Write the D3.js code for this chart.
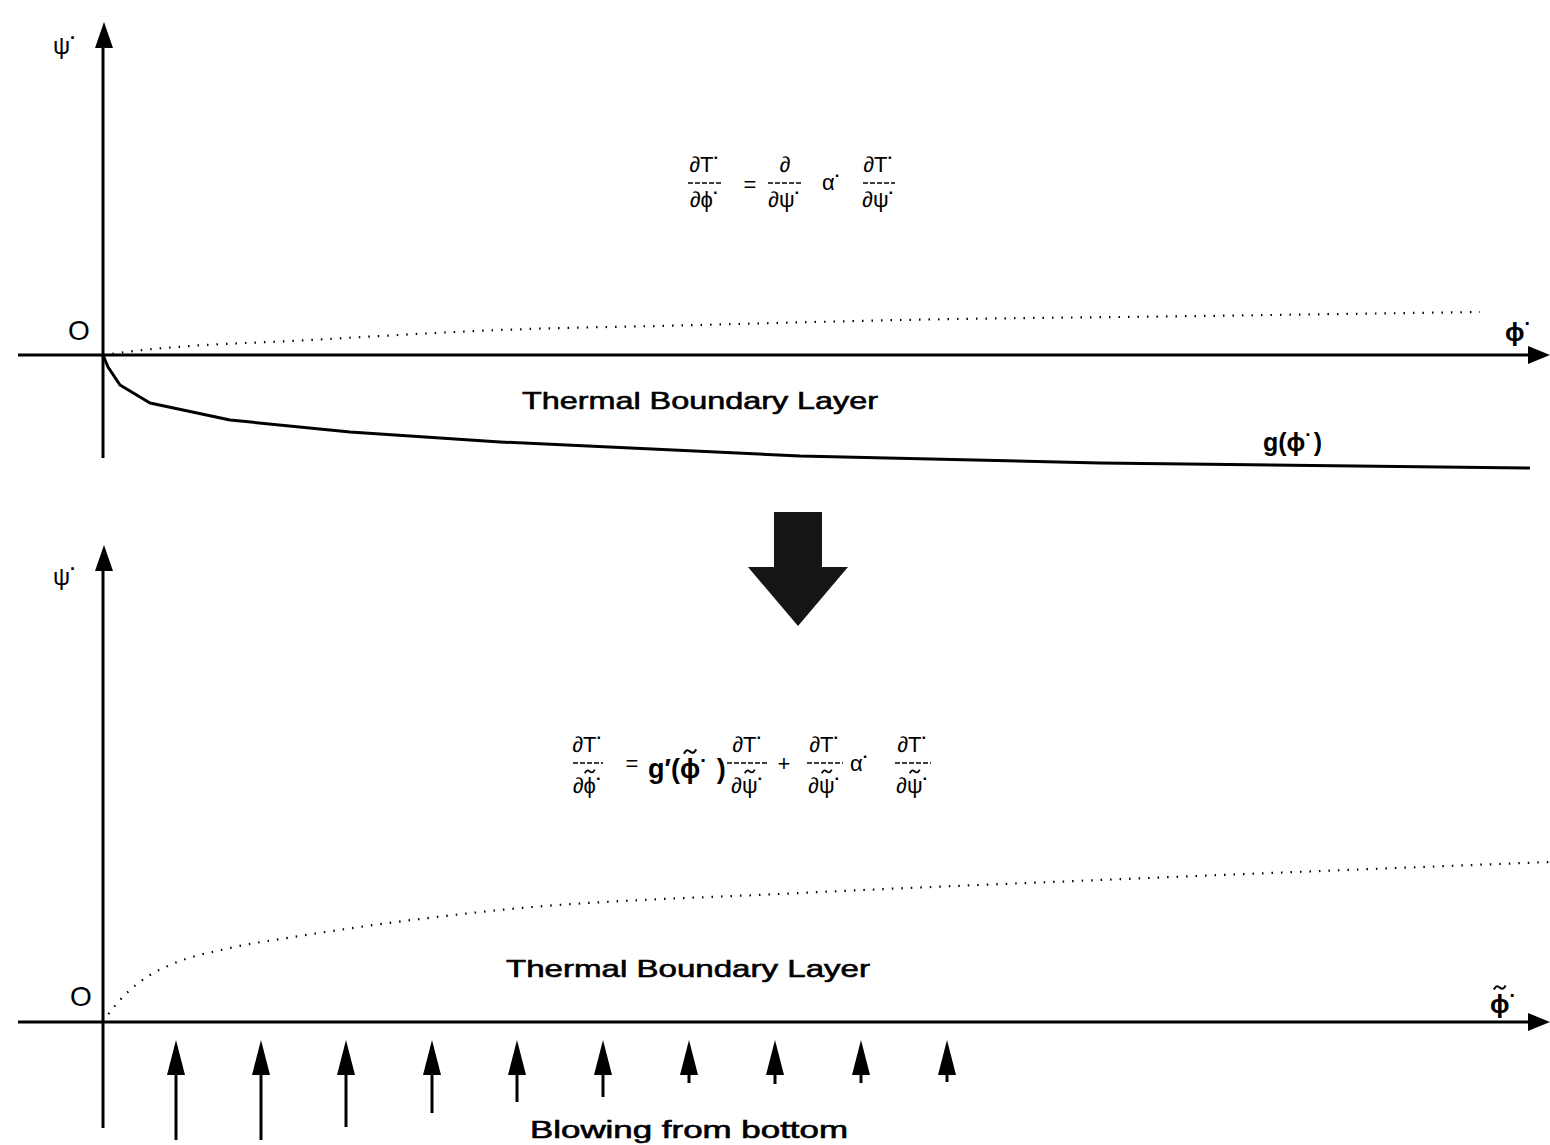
<!doctype html>
<html lang="en">
<head>
	<meta charset="utf-8">
	<title>Thermal Boundary Layer</title>
	<script src="https://cdn.jsdelivr.net/npm/d3@7/dist/d3.min.js"></script>
	<style>
		body { margin: 0; background: #fff; }
		svg text { font-family: "Liberation Sans", Arial, sans-serif; fill: #000; }
	</style>
</head>
<body>
	<div id="chart"></div>

	<script>
		// top panel: dotted edge of the layer and the solid curve g(phi*)
		var topDotPhi = [0, 40, 87, 187, 397, 597, 797, 1097, 1377];
		var topDotPsi = [0, 5, 9, 14, 25, 30, 35, 39, 43];
		var gPhi = [0, 5, 17, 47, 127, 247, 397, 697, 997, 1427];
		var gPsi = [0, -12, -30, -48, -65, -77, -87, -101, -108, -113];

		// bottom panel: dotted edge of the layer after the transform
		var botDotPhi = [0, 7, 17, 27, 47, 67, 127, 197, 397, 697, 997, 1447];
		var botDotPsi = [0, 10, 22, 32, 47, 57, 74, 86, 112, 129, 142, 160];

		// blowing arrows: position along phi, tip and tail in psi
		var blowPhi = [73, 158, 243, 329, 414, 500, 586, 672, 758, 844];
		var blowTip = [-18, -18, -18, -18, -18, -18, -18, -18, -18, -18];
		var blowTail = [-118, -118, -105, -91, -80, -75, -61, -62, -61, -60];

		var width = 1550, height = 1145;
		var PHI = "\u03d5", PSI = "\u03c8", DOT = "\u00b7";

		var svg = d3.select("#chart").append("svg")
			.attr("width", width).attr("height", height);

		var x = d3.scaleLinear().domain([0, 1447]).range([103, 1550]);
		var yTop = d3.scaleLinear().domain([0, 100]).range([355, 255]);
		var yBot = d3.scaleLinear().domain([0, 100]).range([1022, 922]);

		function arrowHead(tx, ty, dir, len, half) {
			var p = d3.path();
			if (dir == "up") {
				p.moveTo(tx, ty);
				p.lineTo(tx + half, ty + len);
				p.lineTo(tx - half, ty + len);
			} else {
				p.moveTo(tx, ty);
				p.lineTo(tx - len, ty - half);
				p.lineTo(tx - len, ty + half);
			}
			p.closePath();
			svg.append("path").attr("d", p.toString()).attr("fill", "#000");
		}

		function drawAxes(y, psiMin, psiMax) {
			svg.append("line")
				.attr("x1", x(0)).attr("x2", x(0))
				.attr("y1", y(psiMin)).attr("y2", y(psiMax) + 20)
				.attr("stroke", "#000").attr("stroke-width", 3);
			arrowHead(x(0) + 1, y(psiMax), "up", 26, 9);
			svg.append("line")
				.attr("x1", 18).attr("x2", width - 18)
				.attr("y1", y(0)).attr("y2", y(0))
				.attr("stroke", "#000").attr("stroke-width", 3);
			arrowHead(width, y(0), "right", 22, 9);
		}

		var tildeLine = d3.line().curve(d3.curveBasis);

		// text with superscripts and tildes: parts = [[text, isSup, tildeOnLast], ...]
		function mathText(px, py, parts, size, anchor, weight) {
			var t = svg.append("text")
				.attr("x", px).attr("y", py)
				.attr("font-size", size)
				.attr("text-anchor", anchor || "middle")
				.attr("font-weight", weight || "normal");
			var idx = 0, tildes = [];
			parts.forEach(function(pt) {
				if (pt[1]) {
					t.append("tspan").attr("dy", -size * 0.42).attr("font-size", size * 0.75).attr("font-weight", "bold").text(pt[0]);
					t.append("tspan").attr("dy", size * 0.42).text("\u200a");
					idx += pt[0].length + 1;
				} else {
					t.append("tspan").text(pt[0]);
					idx += pt[0].length;
					if (pt[2]) tildes.push(idx - 1);
				}
			});
			tildes.forEach(function(i) {
				var box = t.node().getExtentOfChar(i);
				var cx = box.x + box.width / 2, cy = py - size * 0.98;
				var w = size * 0.45, a = size * 0.08;
				svg.append("path")
					.attr("d", tildeLine([[cx - w / 2, cy + a], [cx - w / 4, cy - a * 1.5], [cx + w / 4, cy + a * 1.5], [cx + w / 2, cy - a]]))
					.attr("fill", "none").attr("stroke", "#000").attr("stroke-width", size * 0.08);
			});
			return t;
		}

		function frac(cx, barY, w, num, den, size, denOff) {
			svg.append("line")
				.attr("x1", cx - w / 2).attr("x2", cx + w / 2)
				.attr("y1", barY).attr("y2", barY)
				.attr("stroke", "#000").attr("stroke-width", 1.3)
				.attr("stroke-dasharray", "5,2");
			mathText(cx, barY - 11, num, size);
			mathText(cx, barY + (denOff || 24), den, size);
		}

		function label(px, py, size, len, txt) {
			svg.append("text").attr("x", px).attr("y", py).attr("font-size", size)
				.attr("textLength", len).attr("lengthAdjust", "spacingAndGlyphs")
				.attr("stroke", "#000").attr("stroke-width", 0.6)
				.text(txt);
		}

		var dotted = d3.line().curve(d3.curveMonotoneX);
		var solid = d3.line().curve(d3.curveLinear);

		// ---------- top panel ----------
		drawAxes(yTop, -103, 333);

		svg.append("path")
			.attr("d", dotted(topDotPhi.map(function(d, i) { return [x(d), yTop(topDotPsi[i])]; })))
			.attr("fill", "none").attr("stroke", "#000")
			.attr("stroke-width", 2.2).attr("stroke-dasharray", "1.5,8");

		svg.append("path")
			.attr("d", solid(gPhi.map(function(d, i) { return [x(d), yTop(gPsi[i])]; })))
			.attr("fill", "none").attr("stroke", "#000").attr("stroke-width", 3)
			.attr("stroke-linejoin", "round");

		mathText(53, 54, [[PSI, false], [DOT, true]], 24, "start");
		svg.append("text").attr("x", 68).attr("y", 340).attr("font-size", 28).text("O");
		mathText(1505, 341, [[PHI, false], [DOT, true]], 26, "start", "bold");

		label(522, 409, 24, 356, "Thermal Boundary Layer");
		mathText(1263, 451, [["g(" + PHI, false], [DOT, true], [")", false]], 25, "start", "bold");

		// equation
		var es = 22;
		frac(705, 183, 34, [["\u2202T", false], [DOT, true]], [["\u2202" + PHI, false], [DOT, true]], es);
		mathText(750, 192, [["=", false]], es);
		frac(785, 183, 34, [["\u2202", false]], [["\u2202" + PSI, false], [DOT, true]], es);
		mathText(832, 190, [["\u03b1", false], [DOT, true]], es);
		frac(879, 183, 32, [["\u2202T", false], [DOT, true]], [["\u2202" + PSI, false], [DOT, true]], es);

		// ---------- big arrow ----------
		var ax = x(695), aTop = 512;
		var big = d3.path();
		big.moveTo(ax - 24, aTop);
		big.lineTo(ax + 24, aTop);
		big.lineTo(ax + 24, aTop + 55);
		big.lineTo(ax + 50, aTop + 55);
		big.lineTo(ax, aTop + 114);
		big.lineTo(ax - 50, aTop + 55);
		big.lineTo(ax - 24, aTop + 55);
		big.closePath();
		svg.append("path").attr("d", big.toString()).attr("fill", "#151515");

		// ---------- bottom panel ----------
		drawAxes(yBot, -106, 477);

		svg.append("path")
			.attr("d", dotted(botDotPhi.map(function(d, i) { return [x(d), yBot(botDotPsi[i])]; })))
			.attr("fill", "none").attr("stroke", "#000")
			.attr("stroke-width", 2.2).attr("stroke-dasharray", "1.5,8");

		mathText(53, 585, [[PSI, false], [DOT, true]], 24, "start");
		svg.append("text").attr("x", 70).attr("y", 1006).attr("font-size", 28).text("O");
		mathText(1490, 1013, [[PHI, false, true], [DOT, true]], 26, "start", "bold");

		label(506, 977, 24, 364, "Thermal Boundary Layer");

		// blowing arrows
		blowPhi.forEach(function(d, i) {
			svg.append("line")
				.attr("x1", x(d)).attr("x2", x(d))
				.attr("y1", yBot(blowTip[i]) + 30).attr("y2", yBot(blowTail[i]))
				.attr("stroke", "#000").attr("stroke-width", 3);
			arrowHead(x(d), yBot(blowTip[i]), "up", 35, 9);
		});

		label(530, 1138, 23, 318, "Blowing from bottom");

		// equation
		var dOff = 30;
		frac(588, 763, 30, [["\u2202T", false], [DOT, true]], [["\u2202" + PHI, false, true], [DOT, true]], es, dOff);
		mathText(632, 771, [["=", false]], es);
		mathText(648, 778, [["g\u2032(" + PHI, false, true], [DOT, true], [" )", false]], 27, "start", "bold");
		frac(748, 763, 42, [["\u2202T", false], [DOT, true]], [["\u2202" + PSI, false, true], [DOT, true]], es, dOff);
		mathText(784, 771, [["+", false]], es);
		frac(825, 763, 36, [["\u2202T", false], [DOT, true]], [["\u2202" + PSI, false, true], [DOT, true]], es, dOff);
		mathText(860, 771, [["\u03b1", false], [DOT, true]], es);
		frac(913, 763, 36, [["\u2202T", false], [DOT, true]], [["\u2202" + PSI, false, true], [DOT, true]], es, dOff);
	</script>
</body>
</html>
